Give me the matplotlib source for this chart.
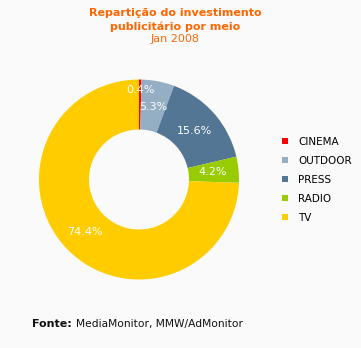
import numpy as np
import matplotlib
matplotlib.use("Agg")
import matplotlib.pyplot as plt
from matplotlib.lines import Line2D

# Share of advertising investment by medium, January 2008
media = ["CINEMA", "OUTDOOR", "PRESS", "RADIO", "TV"]
shares = [0.4, 5.3, 15.6, 4.2, 74.4]
colors = ["#FF0000", "#94AEC4", "#527694", "#99CC00", "#FFCC00"]

# Radial distance of each percentage label (tiny slice label pushed outward)
label_radius = [0.90, 0.74, 0.74, 0.74, 0.75]

bg = "#FAFAFA"
orange = "#FF6600"

fig = plt.figure(figsize=(3.61, 3.48), dpi=100, facecolor=bg)

# Title block
fig.text(0.485, 0.962, "Repartição do investimento", ha="center", va="center",
         color=orange, fontsize=8, fontweight="bold")
fig.text(0.485, 0.924, "publicitário por meio", ha="center", va="center",
         color=orange, fontsize=8, fontweight="bold")
fig.text(0.485, 0.887, "Jan 2008", ha="center", va="center",
         color=orange, fontsize=8)

# Donut
ax = fig.add_axes([0.1080, 0.1968, 0.5540, 0.5747])
ax.set_facecolor(bg)
wedges, _ = ax.pie(shares, colors=colors, startangle=90, counterclock=False,
                   radius=1.0, wedgeprops=dict(width=0.5, linewidth=0))
for w, val, r in zip(wedges, shares, label_radius):
    mid = np.deg2rad((w.theta1 + w.theta2) / 2)
    ax.text(r * np.cos(mid), r * np.sin(mid), f"{val:.1f}%", ha="center",
            va="center", color="white", fontsize=8)
ax.set_xlim(-1, 1)
ax.set_ylim(-1, 1)
ax.set_aspect("equal")
ax.axis("off")

# Legend
handles = [Line2D([0], [0], marker="s", linestyle="none", markersize=3.8,
                  markerfacecolor=c, markeredgewidth=0) for c in colors]
fig.legend(handles, media, loc="upper left", bbox_to_anchor=(0.777, 0.606),
           frameon=False, fontsize=7.5, handlelength=0.8, handletextpad=0.9,
           labelspacing=0.85, borderaxespad=0, borderpad=0)

# Source line
fig.text(0.089, 0.069, "Fonte:", ha="left", va="center", fontsize=8,
         fontweight="bold", color="#111111")
fig.text(0.2105, 0.069, "MediaMonitor, MMW/AdMonitor", ha="left", va="center",
         fontsize=7.7, color="#111111")

fig.savefig("out.png", dpi=100, facecolor=bg)
